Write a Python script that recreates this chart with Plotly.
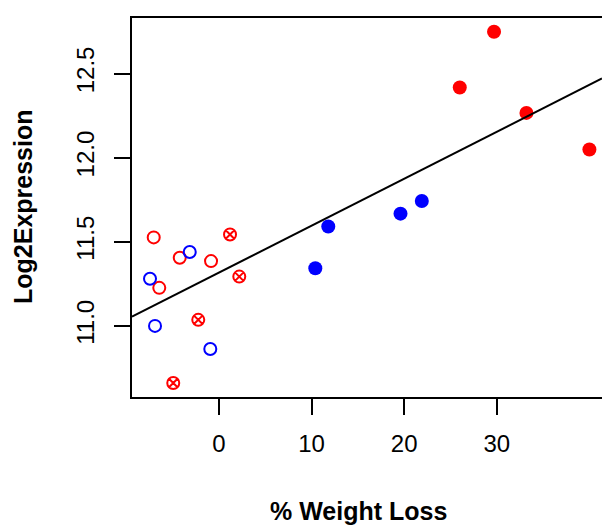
import numpy as np
import plotly.graph_objects as go

# Data
red_filled_x = [26.0, 29.7, 33.2, 40.0]
red_filled_y = [12.417, 12.748, 12.266, 12.048]

blue_filled_x = [10.4, 11.8, 19.6, 21.9]
blue_filled_y = [11.343, 11.591, 11.667, 11.742]

red_open_x = [-7.05, -4.24, -0.86, -6.45]
red_open_y = [11.526, 11.405, 11.385, 11.226]

blue_open_x = [-3.16, -7.45, -6.91, -0.94]
blue_open_y = [11.439, 11.280, 11.000, 10.863]

red_cross_x = [1.19, 2.19, -2.24, -4.94]
red_cross_y = [11.543, 11.293, 11.036, 10.661]

fit_intercept = 11.317
fit_slope = 0.0279

x_ticks = [0, 10, 20, 30]
y_ticks = [11.0, 11.5, 12.0, 12.5]
y_tick_labels = ["11.0", "11.5", "12.0", "12.5"]
x_range = [-9.395, 41.36]
y_range = [10.5774, 12.830]

RED = "#FF0000"
BLUE = "#0000FF"
FONT = "Liberation Sans, Arial, sans-serif"

fig = go.Figure()

fig.add_trace(go.Scatter(x=red_open_x, y=red_open_y, mode="markers",
                         marker=dict(symbol="circle-open", size=12, color=RED,
                                     line=dict(width=2, color=RED))))
fig.add_trace(go.Scatter(x=blue_open_x, y=blue_open_y, mode="markers",
                         marker=dict(symbol="circle-open", size=12, color=BLUE,
                                     line=dict(width=2, color=BLUE))))
fig.add_trace(go.Scatter(x=red_cross_x, y=red_cross_y, mode="markers",
                         marker=dict(symbol="circle-x-open", size=12, color=RED,
                                     line=dict(width=2, color=RED))))
fig.add_trace(go.Scatter(x=blue_filled_x, y=blue_filled_y, mode="markers",
                         marker=dict(symbol="circle", size=14, color=BLUE)))
fig.add_trace(go.Scatter(x=red_filled_x, y=red_filled_y, mode="markers",
                         marker=dict(symbol="circle", size=14, color=RED)))

lx = np.array(x_range)
fig.add_trace(go.Scatter(x=lx, y=fit_intercept + fit_slope * lx, mode="lines",
                         line=dict(color="black", width=2)))

fig.update_layout(
    width=602, height=525,
    margin=dict(l=132, r=0, t=18, b=128, autoexpand=False),
    paper_bgcolor="white", plot_bgcolor="white",
    showlegend=False,
    font=dict(family=FONT, color="black", size=24),
    xaxis=dict(range=x_range, tickvals=x_ticks, ticktext=[str(v) for v in x_ticks],
               showgrid=False, zeroline=False, showline=True, mirror=True,
               linecolor="black", linewidth=2, ticks="outside", ticklen=16,
               tickwidth=2, tickcolor="black", ticklabelstandoff=8,
               tickfont=dict(size=24), automargin=False),
    yaxis=dict(range=y_range, tickvals=y_ticks, ticktext=y_tick_labels,
               showgrid=False, zeroline=False, showline=True, mirror=False,
               linecolor="black", linewidth=2, ticks="outside", ticklen=16,
               tickwidth=2, tickcolor="black", tickangle=-90, ticklabelstandoff=10,
               tickfont=dict(size=24), automargin=False),
)

fig.add_annotation(text="<b>% Weight Loss</b>", xref="paper", yref="paper",
                   x=(358 - 132) / 470, y=-(511 - 397) / 379, showarrow=False,
                   xanchor="center", yanchor="middle", font=dict(size=25, family=FONT))
fig.add_annotation(text="<b>Log2Expression</b>", xref="paper", yref="paper",
                   x=-(132 - 23) / 470, y=(397 - 207) / 379, showarrow=False,
                   textangle=-90, xanchor="center", yanchor="middle",
                   font=dict(size=25, family=FONT))

fig.write_html("out.html", config={"displayModeBar": False},
               post_script="document.body.style.margin='0px';document.body.style.overflow='hidden';")
